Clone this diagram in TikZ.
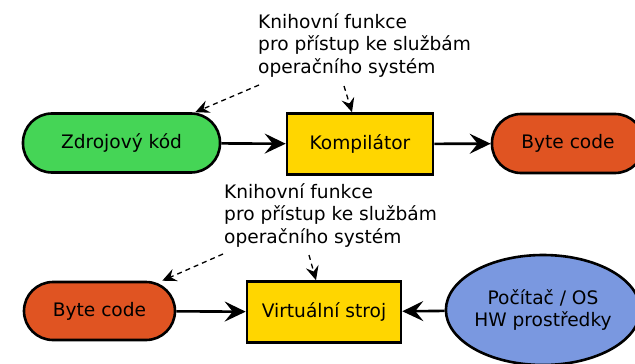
\documentclass[tikz,border=0pt]{standalone}
\usepackage{fontspec}
\setmainfont{DejaVu Sans}
\usetikzlibrary{arrows.meta,shapes.geometric}
\definecolor{zelena}{RGB}{69,213,86}
\definecolor{zluta}{RGB}{255,214,0}
\definecolor{oranzova}{RGB}{224,84,34}
\definecolor{modra}{RGB}{122,152,224}
\tikzset{
  blok/.style={draw, line width=2.6pt, inner sep=0pt},
  kapsle/.style={blok, rectangle, rounded corners=29pt, minimum height=59pt},
  krabice/.style={blok, rectangle, fill=zluta, minimum height=61pt},
  tok/.style={line width=2.6pt, -{Stealth[length=21pt, width=20pt, inset=8pt]}},
  odkaz/.style={line width=1.3pt, dash pattern=on 5pt off 4pt, -{Stealth[length=14pt, width=13pt, inset=5pt]}},
  popis/.style={anchor=north west, inner sep=0pt, align=left}
}
\begin{document}
\begin{tikzpicture}[x=1pt, y=-1pt, font=\fontsize{18.6}{22.5}\selectfont]
  \useasboundingbox (0,0) rectangle (635,364);
  \node[kapsle, fill=zelena, minimum width=197pt] (zdroj) at (121.5,143) {Zdrojový kód};
  \node[krabice, minimum width=146pt] (kompilator) at (360,144) {Kompilátor};
  \node[kapsle, fill=oranzova, minimum width=152pt] (bytecode) at (568,143.5) {Byte code};
  \node[popis] (knihovna1) at (258,13) {Knihovní funkce\\pro přístup ke službám\\operačního systém};
  \draw[tok] (zdroj) -- (kompilator);
  \draw[tok] (kompilator) -- (bytecode);
  \coordinate (k1a) at (259,85);
  \coordinate (k1b) at (344,86);
  \draw[odkaz] (k1a) -- ([xshift=-26pt]zdroj.north east);
  \draw[odkaz] (k1b) -- ([xshift=-8pt]kompilator.north);
  \node[kapsle, fill=oranzova, minimum width=151pt, minimum height=58pt] (bytecodevm) at (99.5,311) {Byte code};
  \node[krabice, minimum width=154pt] (vm) at (324,312) {Virtuální stroj};
  \node[blok, ellipse, fill=modra, minimum width=184pt, minimum height=110pt, align=center] (pocitac) at (543,310) {Počítač / OS\\HW prostředky};
  \node[popis] (knihovna2) at (224,183) {Knihovní funkce\\pro přístup ke službám\\operačního systém};
  \draw[tok] (bytecodevm) -- (vm);
  \draw[tok] (pocitac) -- (vm);
  \coordinate (k2a) at (223,254);
  \coordinate (k2b) at (309,255);
  \draw[odkaz] (k2a) -- ([xshift=-14pt]bytecodevm.north east);
  \draw[odkaz] (k2b) -- ([xshift=-8pt]vm.north);
\end{tikzpicture}
\end{document}
